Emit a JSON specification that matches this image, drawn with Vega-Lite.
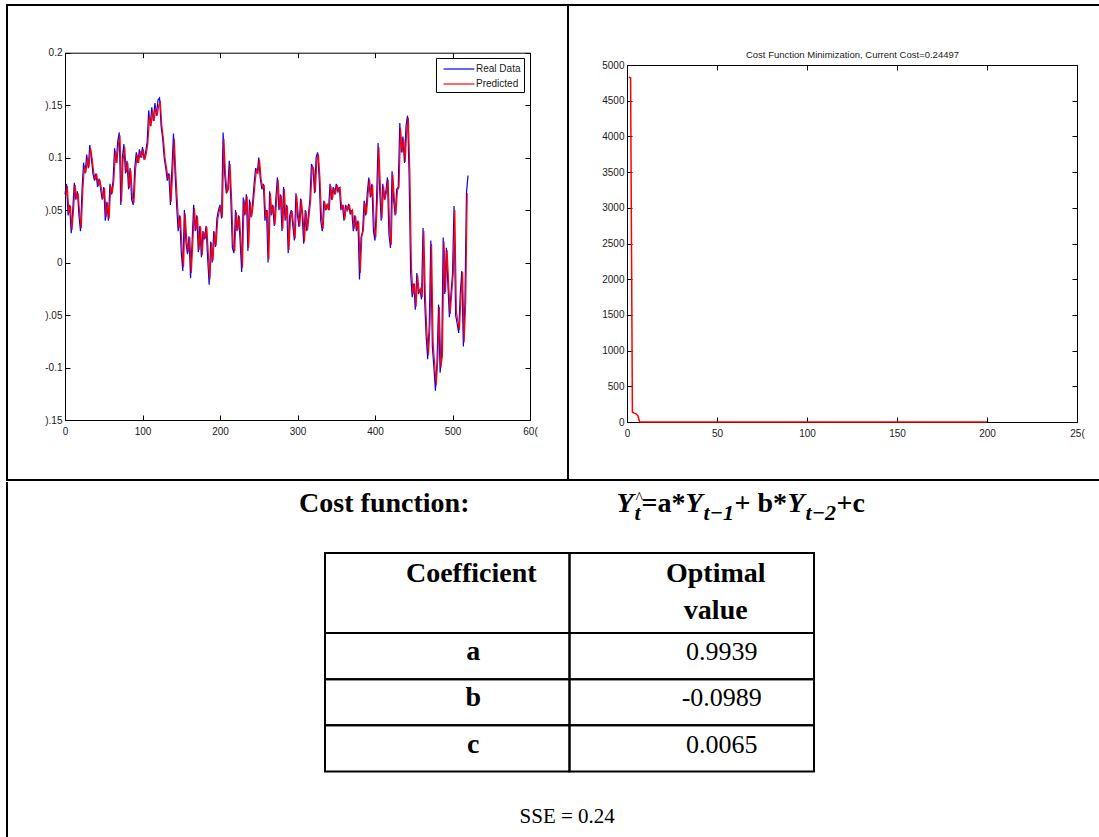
{
  "$schema": "https://vega.github.io/schema/vega-lite/v6.json",
  "background": "white",
  "padding": {"left": 6, "top": 4, "right": 0, "bottom": 0},
  "config": {
    "view": {"stroke": "#000000", "strokeWidth": 2},
    "concat": {"spacing": 0},
    "axis": {
      "grid": false,
      "domainColor": "#000000",
      "domainWidth": 1,
      "tickColor": "#000000",
      "tickWidth": 1,
      "labelFont": "Liberation Sans",
      "labelFontSize": 10,
      "labelColor": "#1a1a1a",
      "labelFlush": false,
      "labelOverlap": false,
      "labelBound": false
    }
  },
  "datasets": {
    "real": [{"t":0,"v":0.065},{"t":2,"v":0.075},{"t":4,"v":0.045},{"t":6,"v":0.055},{"t":8,"v":0.028},{"t":10,"v":0.05},{"t":12,"v":0.076},{"t":14,"v":0.06},{"t":16,"v":0.068},{"t":18,"v":0.045},{"t":20,"v":0.03},{"t":22,"v":0.07},{"t":24,"v":0.095},{"t":26,"v":0.085},{"t":28,"v":0.103},{"t":30,"v":0.09},{"t":32,"v":0.112},{"t":34,"v":0.1},{"t":36,"v":0.085},{"t":38,"v":0.078},{"t":40,"v":0.085},{"t":42,"v":0.072},{"t":44,"v":0.08},{"t":46,"v":0.07},{"t":48,"v":0.06},{"t":50,"v":0.072},{"t":52,"v":0.04},{"t":54,"v":0.058},{"t":56,"v":0.04},{"t":58,"v":0.075},{"t":60,"v":0.065},{"t":62,"v":0.078},{"t":64,"v":0.109},{"t":66,"v":0.095},{"t":68,"v":0.115},{"t":70,"v":0.124},{"t":72,"v":0.055},{"t":74,"v":0.1},{"t":76,"v":0.113},{"t":78,"v":0.085},{"t":80,"v":0.097},{"t":82,"v":0.07},{"t":84,"v":0.09},{"t":86,"v":0.06},{"t":88,"v":0.055},{"t":90,"v":0.09},{"t":92,"v":0.105},{"t":94,"v":0.095},{"t":96,"v":0.108},{"t":98,"v":0.1},{"t":100,"v":0.11},{"t":102,"v":0.098},{"t":104,"v":0.105},{"t":106,"v":0.115},{"t":108,"v":0.145},{"t":110,"v":0.13},{"t":112,"v":0.148},{"t":114,"v":0.135},{"t":116,"v":0.152},{"t":118,"v":0.14},{"t":120,"v":0.155},{"t":122,"v":0.157},{"t":124,"v":0.13},{"t":126,"v":0.118},{"t":128,"v":0.1},{"t":130,"v":0.09},{"t":132,"v":0.078},{"t":134,"v":0.085},{"t":136,"v":0.055},{"t":138,"v":0.09},{"t":140,"v":0.123},{"t":142,"v":0.085},{"t":144,"v":0.055},{"t":146,"v":0.03},{"t":148,"v":0.045},{"t":150,"v":0.01},{"t":152,"v":-0.008},{"t":154,"v":0.05},{"t":156,"v":0.02},{"t":158,"v":0.008},{"t":160,"v":0.025},{"t":162,"v":-0.015},{"t":164,"v":0.02},{"t":166,"v":0.055},{"t":168,"v":0.03},{"t":170,"v":0.045},{"t":172,"v":0.01},{"t":174,"v":0.035},{"t":176,"v":0.005},{"t":178,"v":0.03},{"t":180,"v":0.022},{"t":182,"v":0.035},{"t":184,"v":0.005},{"t":186,"v":-0.021},{"t":188,"v":0.02},{"t":190,"v":0},{"t":192,"v":0.03},{"t":194,"v":0.015},{"t":196,"v":0.042},{"t":198,"v":0.05},{"t":200,"v":0.055},{"t":202,"v":0.042},{"t":204,"v":0.124},{"t":206,"v":0.085},{"t":208,"v":0.066},{"t":210,"v":0.07},{"t":212,"v":0.097},{"t":214,"v":0.06},{"t":216,"v":0.014},{"t":218,"v":0.009},{"t":220,"v":0.05},{"t":222,"v":0.03},{"t":224,"v":0.045},{"t":226,"v":0.02},{"t":228,"v":-0.009},{"t":230,"v":0.062},{"t":232,"v":0.045},{"t":234,"v":0.065},{"t":236,"v":0.011},{"t":238,"v":0.06},{"t":240,"v":0.043},{"t":242,"v":0.056},{"t":244,"v":0.075},{"t":246,"v":0.09},{"t":248,"v":0.085},{"t":250,"v":0.1},{"t":252,"v":0.08},{"t":254,"v":0.07},{"t":256,"v":0.075},{"t":258,"v":0.04},{"t":260,"v":0.05},{"t":262,"v":0},{"t":264,"v":0.068},{"t":266,"v":0.045},{"t":268,"v":0.055},{"t":270,"v":0.035},{"t":272,"v":0.06},{"t":274,"v":0.081},{"t":276,"v":0.05},{"t":278,"v":0.065},{"t":280,"v":0.03},{"t":282,"v":0.072},{"t":284,"v":0.04},{"t":286,"v":0.055},{"t":288,"v":0.009},{"t":290,"v":0.045},{"t":292,"v":0.05},{"t":294,"v":0.035},{"t":296,"v":0.021},{"t":298,"v":0.066},{"t":300,"v":0.045},{"t":302,"v":0.034},{"t":304,"v":0.061},{"t":306,"v":0.045},{"t":308,"v":0.018},{"t":310,"v":0.05},{"t":312,"v":0.03},{"t":314,"v":0.045},{"t":316,"v":0.06},{"t":318,"v":0.094},{"t":320,"v":0.09},{"t":322,"v":0.066},{"t":324,"v":0.1},{"t":326,"v":0.105},{"t":328,"v":0.08},{"t":330,"v":0.04},{"t":332,"v":0.03},{"t":334,"v":0.059},{"t":336,"v":0.05},{"t":338,"v":0.055},{"t":340,"v":0.05},{"t":342,"v":0.075},{"t":344,"v":0.06},{"t":346,"v":0.072},{"t":348,"v":0.065},{"t":350,"v":0.075},{"t":352,"v":0.068},{"t":354,"v":0.072},{"t":356,"v":0.05},{"t":358,"v":0.055},{"t":360,"v":0.04},{"t":362,"v":0.055},{"t":364,"v":0.05},{"t":366,"v":0.056},{"t":368,"v":0.046},{"t":370,"v":0.05},{"t":372,"v":0.03},{"t":374,"v":0.045},{"t":376,"v":0.03},{"t":378,"v":0.04},{"t":380,"v":-0.016},{"t":382,"v":0.024},{"t":384,"v":0.03},{"t":386,"v":0.059},{"t":388,"v":0.045},{"t":390,"v":0.066},{"t":392,"v":0.081},{"t":394,"v":0.062},{"t":396,"v":0.075},{"t":398,"v":0.03},{"t":400,"v":0.021},{"t":402,"v":0.06},{"t":404,"v":0.114},{"t":406,"v":0.07},{"t":408,"v":0.04},{"t":410,"v":0.075},{"t":412,"v":0.06},{"t":414,"v":0.068},{"t":416,"v":0.081},{"t":418,"v":0.027},{"t":420,"v":0.014},{"t":422,"v":0.087},{"t":424,"v":0.06},{"t":426,"v":0.045},{"t":428,"v":0.07},{"t":430,"v":0.072},{"t":432,"v":0.133},{"t":434,"v":0.105},{"t":436,"v":0.12},{"t":438,"v":0.095},{"t":440,"v":0.13},{"t":442,"v":0.14},{"t":444,"v":0.084},{"t":446,"v":-0.01},{"t":448,"v":-0.033},{"t":450,"v":-0.02},{"t":452,"v":-0.045},{"t":454,"v":-0.01},{"t":456,"v":-0.03},{"t":458,"v":-0.025},{"t":460,"v":-0.035},{"t":462,"v":0.033},{"t":464,"v":-0.035},{"t":466,"v":-0.07},{"t":468,"v":-0.092},{"t":470,"v":-0.06},{"t":472,"v":0.021},{"t":474,"v":-0.08},{"t":476,"v":-0.1},{"t":478,"v":-0.122},{"t":480,"v":-0.095},{"t":482,"v":-0.04},{"t":484,"v":-0.105},{"t":486,"v":-0.09},{"t":488,"v":0.024},{"t":490,"v":-0.03},{"t":492,"v":0.014},{"t":494,"v":-0.02},{"t":496,"v":-0.052},{"t":498,"v":-0.03},{"t":500,"v":-0.011},{"t":502,"v":0.054},{"t":504,"v":-0.05},{"t":506,"v":-0.058},{"t":508,"v":-0.067},{"t":510,"v":-0.03},{"t":512,"v":-0.008},{"t":514,"v":-0.08},{"t":516,"v":-0.04},{"t":518,"v":0.066},{"t":520,"v":0.083}],
    "pred": [{"t":1,"v":0.063},{"t":3,"v":0.073},{"t":5,"v":0.047},{"t":7,"v":0.054},{"t":9,"v":0.031},{"t":11,"v":0.05},{"t":13,"v":0.074},{"t":15,"v":0.061},{"t":17,"v":0.066},{"t":19,"v":0.046},{"t":21,"v":0.033},{"t":23,"v":0.069},{"t":25,"v":0.092},{"t":27,"v":0.086},{"t":29,"v":0.1},{"t":31,"v":0.091},{"t":33,"v":0.109},{"t":35,"v":0.099},{"t":37,"v":0.086},{"t":39,"v":0.079},{"t":41,"v":0.084},{"t":43,"v":0.073},{"t":45,"v":0.079},{"t":47,"v":0.07},{"t":49,"v":0.061},{"t":51,"v":0.071},{"t":53,"v":0.043},{"t":55,"v":0.057},{"t":57,"v":0.042},{"t":59,"v":0.073},{"t":61,"v":0.066},{"t":63,"v":0.078},{"t":65,"v":0.106},{"t":67,"v":0.095},{"t":69,"v":0.113},{"t":71,"v":0.121},{"t":73,"v":0.058},{"t":75,"v":0.098},{"t":77,"v":0.11},{"t":79,"v":0.086},{"t":81,"v":0.095},{"t":83,"v":0.071},{"t":85,"v":0.088},{"t":87,"v":0.062},{"t":89,"v":0.057},{"t":91,"v":0.088},{"t":93,"v":0.103},{"t":95,"v":0.095},{"t":97,"v":0.106},{"t":99,"v":0.1},{"t":101,"v":0.108},{"t":103,"v":0.098},{"t":105,"v":0.104},{"t":107,"v":0.114},{"t":109,"v":0.14},{"t":111,"v":0.13},{"t":113,"v":0.145},{"t":115,"v":0.135},{"t":117,"v":0.148},{"t":119,"v":0.14},{"t":121,"v":0.15},{"t":123,"v":0.153},{"t":125,"v":0.13},{"t":127,"v":0.118},{"t":129,"v":0.1},{"t":131,"v":0.09},{"t":133,"v":0.08},{"t":135,"v":0.084},{"t":137,"v":0.058},{"t":139,"v":0.088},{"t":141,"v":0.118},{"t":143,"v":0.085},{"t":145,"v":0.057},{"t":147,"v":0.033},{"t":149,"v":0.044},{"t":151,"v":0.013},{"t":153,"v":-0.004},{"t":155,"v":0.047},{"t":157,"v":0.022},{"t":159,"v":0.01},{"t":161,"v":0.024},{"t":163,"v":-0.01},{"t":165,"v":0.02},{"t":167,"v":0.052},{"t":169,"v":0.031},{"t":171,"v":0.044},{"t":173,"v":0.012},{"t":175,"v":0.034},{"t":177,"v":0.007},{"t":179,"v":0.029},{"t":181,"v":0.023},{"t":183,"v":0.034},{"t":185,"v":0.007},{"t":187,"v":-0.016},{"t":189,"v":0.019},{"t":191,"v":0.002},{"t":193,"v":0.029},{"t":195,"v":0.016},{"t":197,"v":0.041},{"t":199,"v":0.049},{"t":201,"v":0.054},{"t":203,"v":0.043},{"t":205,"v":0.118},{"t":207,"v":0.085},{"t":209,"v":0.067},{"t":211,"v":0.07},{"t":213,"v":0.094},{"t":215,"v":0.06},{"t":217,"v":0.017},{"t":219,"v":0.011},{"t":221,"v":0.048},{"t":223,"v":0.031},{"t":225,"v":0.044},{"t":227,"v":0.021},{"t":229,"v":-0.005},{"t":231,"v":0.06},{"t":233,"v":0.046},{"t":235,"v":0.063},{"t":237,"v":0.014},{"t":239,"v":0.058},{"t":241,"v":0.044},{"t":243,"v":0.056},{"t":245,"v":0.074},{"t":247,"v":0.088},{"t":249,"v":0.085},{"t":251,"v":0.098},{"t":253,"v":0.08},{"t":255,"v":0.071},{"t":257,"v":0.074},{"t":259,"v":0.042},{"t":261,"v":0.05},{"t":263,"v":0.003},{"t":265,"v":0.066},{"t":267,"v":0.046},{"t":269,"v":0.054},{"t":271,"v":0.036},{"t":273,"v":0.059},{"t":275,"v":0.079},{"t":277,"v":0.051},{"t":279,"v":0.064},{"t":281,"v":0.032},{"t":283,"v":0.07},{"t":285,"v":0.041},{"t":287,"v":0.054},{"t":289,"v":0.012},{"t":291,"v":0.044},{"t":293,"v":0.049},{"t":295,"v":0.035},{"t":297,"v":0.023},{"t":299,"v":0.064},{"t":301,"v":0.045},{"t":303,"v":0.035},{"t":305,"v":0.06},{"t":307,"v":0.045},{"t":309,"v":0.02},{"t":311,"v":0.049},{"t":313,"v":0.031},{"t":315,"v":0.045},{"t":317,"v":0.06},{"t":319,"v":0.092},{"t":321,"v":0.089},{"t":323,"v":0.067},{"t":325,"v":0.098},{"t":327,"v":0.103},{"t":329,"v":0.08},{"t":331,"v":0.042},{"t":333,"v":0.032},{"t":335,"v":0.058},{"t":337,"v":0.05},{"t":339,"v":0.055},{"t":341,"v":0.05},{"t":343,"v":0.073},{"t":345,"v":0.06},{"t":347,"v":0.071},{"t":349,"v":0.065},{"t":351,"v":0.074},{"t":353,"v":0.068},{"t":355,"v":0.071},{"t":357,"v":0.051},{"t":359,"v":0.055},{"t":361,"v":0.041},{"t":363,"v":0.054},{"t":365,"v":0.05},{"t":367,"v":0.055},{"t":369,"v":0.047},{"t":371,"v":0.05},{"t":373,"v":0.032},{"t":375,"v":0.044},{"t":377,"v":0.031},{"t":379,"v":0.039},{"t":381,"v":-0.01},{"t":383,"v":0.025},{"t":385,"v":0.031},{"t":387,"v":0.057},{"t":389,"v":0.046},{"t":391,"v":0.065},{"t":393,"v":0.079},{"t":395,"v":0.063},{"t":397,"v":0.074},{"t":399,"v":0.033},{"t":401,"v":0.024},{"t":403,"v":0.059},{"t":405,"v":0.11},{"t":407,"v":0.07},{"t":409,"v":0.042},{"t":411,"v":0.073},{"t":413,"v":0.06},{"t":415,"v":0.068},{"t":417,"v":0.079},{"t":419,"v":0.03},{"t":421,"v":0.017},{"t":423,"v":0.084},{"t":425,"v":0.06},{"t":427,"v":0.046},{"t":429,"v":0.069},{"t":431,"v":0.072},{"t":433,"v":0.128},{"t":435,"v":0.105},{"t":437,"v":0.118},{"t":439,"v":0.096},{"t":441,"v":0.128},{"t":443,"v":0.138},{"t":445,"v":0.085},{"t":447,"v":-0.005},{"t":449,"v":-0.03},{"t":451,"v":-0.02},{"t":453,"v":-0.042},{"t":455,"v":-0.012},{"t":457,"v":-0.029},{"t":459,"v":-0.025},{"t":461,"v":-0.033},{"t":463,"v":0.03},{"t":465,"v":-0.033},{"t":467,"v":-0.067},{"t":469,"v":-0.088},{"t":471,"v":-0.058},{"t":473,"v":0.018},{"t":475,"v":-0.077},{"t":477,"v":-0.097},{"t":479,"v":-0.117},{"t":481,"v":-0.092},{"t":483,"v":-0.042},{"t":485,"v":-0.1},{"t":487,"v":-0.088},{"t":489,"v":0.02},{"t":491,"v":-0.028},{"t":493,"v":0.012},{"t":495,"v":-0.019},{"t":497,"v":-0.049},{"t":499,"v":-0.029},{"t":501,"v":-0.01},{"t":503,"v":0.05},{"t":505,"v":-0.047},{"t":507,"v":-0.056},{"t":509,"v":-0.064},{"t":511,"v":-0.03},{"t":513,"v":-0.009},{"t":515,"v":-0.076},{"t":517,"v":-0.038},{"t":519,"v":0.066}],
    "cost": [{"it":1,"cost":4830},{"it":2,"cost":4820},{"it":3,"cost":140},{"it":4,"cost":125},{"it":5,"cost":115},{"it":6,"cost":90},{"it":7,"cost":3},{"it":8,"cost":0.5},{"it":20,"cost":0.3},{"it":50,"cost":0.26},{"it":100,"cost":0.25},{"it":150,"cost":0.245},{"it":200,"cost":0.245}]
  },
  "vconcat": [
    {
      "hconcat": [
        {
          "width": 561,
          "height": 475,
          "layer": [
            {
              "data": {"name": "real"},
              "mark": {"type": "line", "strokeWidth": 1.2},
              "encoding": {
                "x": {
                  "field": "t", "type": "quantitative",
                  "scale": {"domain": [0, 600], "range": [58, 523], "nice": false, "zero": false},
                  "axis": {"orient": "bottom", "offset": -60, "values": [0, 100, 200, 300, 400, 500, 600], "tickSize": -5, "labelPadding": 11, "labelExpr": "datum.value == 600 ? '60(' : datum.label", "title": null}
                },
                "y": {
                  "field": "v", "type": "quantitative",
                  "scale": {"domain": [-0.15, 0.2], "range": [415, 47.7], "nice": false, "zero": false},
                  "axis": {"orient": "left", "offset": -58, "values": [-0.15, -0.1, -0.05, 0, 0.05, 0.1, 0.15, 0.2], "tickSize": -5, "labelPadding": 8, "labelExpr": "datum.value < -0.12 ? ').15' : datum.value < -0.07 ? '-0.1' : datum.value < -0.02 ? ').05' : datum.value < 0.02 ? '0' : datum.value < 0.07 ? ').05' : datum.value < 0.12 ? '0.1' : datum.value < 0.17 ? ').15' : '0.2'", "title": null}
                },
                "color": {
                  "datum": "Real Data", "type": "nominal",
                  "scale": {"domain": ["Real Data", "Predicted"], "range": ["#0000ff", "#ff0000"]},
                  "legend": {"orient": "none", "legendX": 429, "legendY": 53, "title": null, "direction": "vertical", "strokeColor": "#000000", "fillColor": "#ffffff", "padding": 3, "symbolType": "M-2.2,0H2.2", "symbolSize": 196, "symbolStrokeWidth": 1.2, "symbolOffset": 12, "labelFont": "Liberation Sans", "labelFontSize": 10, "labelColor": "#1a1a1a", "rowPadding": 2, "labelOffset": 9}
                }
              }
            },
            {
              "data": {"name": "pred"},
              "mark": {"type": "line", "strokeWidth": 1.2},
              "encoding": {
                "x": {
                  "field": "t", "type": "quantitative",
                  "axis": {"orient": "top", "offset": -47.7, "values": [0, 100, 200, 300, 400, 500, 600], "tickSize": -5, "labels": false, "title": null}
                },
                "y": {
                  "field": "v", "type": "quantitative",
                  "axis": {"orient": "right", "offset": -38, "values": [-0.15, -0.1, -0.05, 0, 0.05, 0.1, 0.15, 0.2], "tickSize": -5, "labels": false, "title": null}
                },
                "color": {"datum": "Predicted", "type": "nominal"}
              }
            }
          ],
          "resolve": {"axis": {"x": "independent", "y": "independent"}}
        },
        {
          "width": 531,
          "height": 475,
          "view": {"stroke": null},
          "layer": [
            {
              "data": {"name": "cost"},
              "layer": [
                {
                  "mark": {"type": "line", "color": "#ff0000", "strokeWidth": 1.5},
                  "encoding": {
                    "x": {
                      "field": "it", "type": "quantitative",
                      "scale": {"domain": [0, 250], "range": [59, 509], "nice": false, "zero": false},
                      "axis": {"orient": "bottom", "offset": -58, "values": [0, 50, 100, 150, 200, 250], "tickSize": -5, "labelPadding": 11, "labelExpr": "datum.value == 250 ? '25(' : datum.label", "title": null}
                    },
                    "y": {
                      "field": "cost", "type": "quantitative",
                      "scale": {"domain": [0, 5000], "range": [417, 60], "nice": false},
                      "axis": {"orient": "left", "offset": -59, "values": [0, 500, 1000, 1500, 2000, 2500, 3000, 3500, 4000, 4500, 5000], "tickSize": -5, "labelPadding": 8, "format": "d", "title": null}
                    }
                  }
                },
                {
                  "mark": {"type": "line", "strokeOpacity": 0},
                  "encoding": {
                    "x": {
                      "field": "it", "type": "quantitative",
                      "axis": {"orient": "top", "offset": -60, "values": [0, 50, 100, 150, 200, 250], "tickSize": -5, "labels": false, "title": "Cost Function Minimization, Current Cost=0.24497", "titleFont": "Liberation Sans", "titleFontSize": 9.5, "titleFontWeight": "normal", "titleColor": "#1a1a1a", "titlePadding": 5}
                    },
                    "y": {
                      "field": "cost", "type": "quantitative",
                      "axis": {"orient": "right", "offset": -22, "values": [0, 500, 1000, 1500, 2000, 2500, 3000, 3500, 4000, 4500, 5000], "tickSize": -5, "labels": false, "title": null}
                    }
                  }
                }
              ],
              "resolve": {"axis": {"x": "independent", "y": "independent"}}
            },
            {
              "data": {"values": [{"edge": "top"}, {"edge": "bottom"}]},
              "mark": {"type": "rule", "color": "#000000", "strokeWidth": 2},
              "encoding": {
                "y": {"field": "edge", "type": "nominal", "scale": {"type": "point", "domain": ["top", "bottom"], "range": [0, 475], "padding": 0}, "axis": null},
                "x": {"datum": 0, "type": "quantitative", "scale": {"domain": [0, 1], "range": [0, 531]}, "axis": null},
                "x2": {"datum": 1}
              }
            }
          ],
          "resolve": {"scale": {"x": "independent", "y": "independent"}}
        }
      ],
      "spacing": 0,
      "bounds": "flush"
    },
    {
      "width": 1092,
      "height": 356,
      "view": {"stroke": null},
      "layer": [
        {
          "data": {"values": [{"side": "left"}]},
          "mark": {"type": "rule", "color": "#000000", "strokeWidth": 2},
          "encoding": {
            "x": {"field": "side", "type": "nominal", "scale": {"type": "point", "domain": ["left", "right"], "range": [0, 1092], "padding": 0}, "axis": null},
            "y": {"datum": 0, "type": "quantitative", "scale": {"domain": [0, 1], "range": [0, 356]}, "axis": null},
            "y2": {"datum": 1}
          }
        },
        {
          "data": {"values": [{"col": "Coefficient"}, {"col": "Optimal value"}]},
          "encoding": {
            "x": {"field": "col", "type": "nominal", "scale": {"type": "band", "domain": ["Coefficient", "Optimal value"], "range": [318, 807], "paddingInner": 0, "paddingOuter": 0}, "axis": null},
            "y": {"datum": "header", "type": "nominal", "scale": {"type": "band", "domain": ["header"], "range": [71, 151], "paddingInner": 0, "paddingOuter": 0}, "axis": null}
          },
          "layer": [
            {"mark": {"type": "rect", "fill": "#ffffff", "fillOpacity": 0, "stroke": "#000000", "strokeWidth": 2}},
            {
              "mark": {"type": "text", "font": "Liberation Serif", "fontSize": 28, "fontWeight": "bold", "color": "#000000", "lineBreak": " ", "lineHeight": 37, "baseline": "alphabetic", "align": "center", "dx": 24},
              "encoding": {
                "y": {"datum": "header", "type": "nominal", "bandPosition": 0.36},
                "text": {"field": "col"}
              }
            }
          ]
        },
        {
          "data": {"values": [
            {"Coefficient": "a", "Optimal value": "0.9939"},
            {"Coefficient": "b", "Optimal value": "-0.0989"},
            {"Coefficient": "c", "Optimal value": "0.0065"}
          ]},
          "encoding": {
            "y": {"field": "Coefficient", "type": "nominal", "scale": {"type": "band", "domain": ["a", "b", "c"], "range": [151, 289.5], "paddingInner": 0, "paddingOuter": 0}, "axis": null}
          },
          "layer": [
            {
              "mark": {"type": "rect", "fill": "#ffffff", "fillOpacity": 0, "stroke": "#000000", "strokeWidth": 2},
              "encoding": {"x": {"datum": "Coefficient", "type": "nominal", "scale": {"type": "band", "domain": ["Coefficient", "Optimal value"], "range": [318, 807], "paddingInner": 0, "paddingOuter": 0}, "axis": null}}
            },
            {
              "mark": {"type": "rect", "fill": "#ffffff", "fillOpacity": 0, "stroke": "#000000", "strokeWidth": 2},
              "encoding": {"x": {"datum": "Optimal value", "type": "nominal"}}
            },
            {
              "mark": {"type": "text", "font": "Liberation Serif", "fontSize": 28, "fontWeight": "bold", "color": "#000000", "baseline": "alphabetic", "align": "center", "dx": 26},
              "encoding": {
                "x": {"datum": "Coefficient", "type": "nominal"},
                "y": {"field": "Coefficient", "type": "nominal", "bandPosition": 0.59},
                "text": {"field": "Coefficient"}
              }
            },
            {
              "mark": {"type": "text", "font": "Liberation Serif", "fontSize": 26, "color": "#000000", "baseline": "alphabetic", "align": "center", "dx": 30},
              "encoding": {
                "x": {"datum": "Optimal value", "type": "nominal"},
                "y": {"field": "Coefficient", "type": "nominal", "bandPosition": 0.59},
                "text": {"field": "Optimal value"}
              }
            }
          ]
        },
        {
          "data": {"values": [{}]},
          "encoding": {
            "x": {"datum": 34.55, "type": "quantitative", "scale": {"domain": [0, 100], "range": [0, 1092]}, "axis": null},
            "y": {"datum": 8.4, "type": "quantitative", "scale": {"domain": [0, 100], "range": [0, 356]}, "axis": null}
          },
          "mark": {"type": "text", "text": "Cost function:", "font": "Liberation Serif", "fontSize": 28, "fontWeight": "bold", "color": "#000000", "align": "center", "baseline": "alphabetic"}
        },
        {
          "data": {"values": [{}]},
          "encoding": {
            "x": {"datum": 55.82, "type": "quantitative", "scale": {"domain": [0, 100], "range": [0, 1092]}, "axis": null},
            "y": {"datum": 8.4, "type": "quantitative", "scale": {"domain": [0, 100], "range": [0, 356]}, "axis": null}
          },
          "layer": [
            {"mark": {"type": "text", "text": "Y", "font": "Liberation Serif", "fontSize": 28, "fontWeight": "bold", "fontStyle": "italic", "color": "#000000", "align": "left", "baseline": "alphabetic", "dx": 0}},
            {"mark": {"type": "text", "text": "t", "font": "Liberation Serif", "fontSize": 22, "fontWeight": "bold", "fontStyle": "italic", "color": "#000000", "align": "left", "baseline": "alphabetic", "dx": 18, "dy": 8}},
            {"mark": {"type": "text", "text": "^", "font": "Liberation Serif", "fontSize": 16, "color": "#000000", "align": "left", "baseline": "alphabetic", "dx": 19, "dy": -9}},
            {"mark": {"type": "text", "text": "=a*", "font": "Liberation Serif", "fontSize": 28, "fontWeight": "bold", "color": "#000000", "align": "left", "baseline": "alphabetic", "dx": 25}},
            {"mark": {"type": "text", "text": "Y", "font": "Liberation Serif", "fontSize": 28, "fontWeight": "bold", "fontStyle": "italic", "color": "#000000", "align": "left", "baseline": "alphabetic", "dx": 69}},
            {"mark": {"type": "text", "text": "t−1", "font": "Liberation Serif", "fontSize": 22, "fontWeight": "bold", "fontStyle": "italic", "color": "#000000", "align": "left", "baseline": "alphabetic", "dx": 87, "dy": 8}},
            {"mark": {"type": "text", "text": "+ b*", "font": "Liberation Serif", "fontSize": 28, "fontWeight": "bold", "color": "#000000", "align": "left", "baseline": "alphabetic", "dx": 118}},
            {"mark": {"type": "text", "text": "Y", "font": "Liberation Serif", "fontSize": 28, "fontWeight": "bold", "fontStyle": "italic", "color": "#000000", "align": "left", "baseline": "alphabetic", "dx": 171}},
            {"mark": {"type": "text", "text": "t−2", "font": "Liberation Serif", "fontSize": 22, "fontWeight": "bold", "fontStyle": "italic", "color": "#000000", "align": "left", "baseline": "alphabetic", "dx": 189, "dy": 8}},
            {"mark": {"type": "text", "text": "+c", "font": "Liberation Serif", "fontSize": 28, "fontWeight": "bold", "color": "#000000", "align": "left", "baseline": "alphabetic", "dx": 220}}
          ]
        },
        {
          "data": {"values": [{}]},
          "encoding": {
            "x": {"datum": 51.3, "type": "quantitative", "scale": {"domain": [0, 100], "range": [0, 1092]}, "axis": null},
            "y": {"datum": 95.8, "type": "quantitative", "scale": {"domain": [0, 100], "range": [0, 356]}, "axis": null}
          },
          "mark": {"type": "text", "text": "SSE = 0.24", "font": "Liberation Serif", "fontSize": 21, "color": "#000000", "align": "center", "baseline": "alphabetic"}
        }
      ],
      "resolve": {"scale": {"x": "independent", "y": "independent"}}
    }
  ],
  "spacing": 0
}
